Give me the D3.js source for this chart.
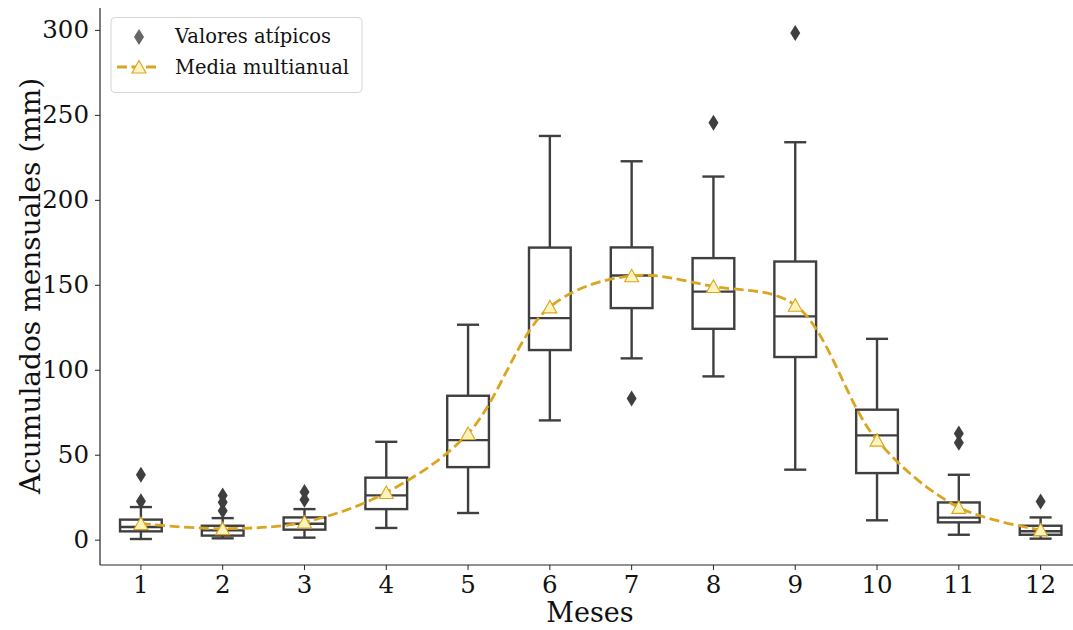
<!DOCTYPE html>
<html>
<head>
<meta charset="utf-8">
<script src="https://cdn.jsdelivr.net/npm/d3@7"></script>
<style>
  body { margin: 0; background: #fff; }
  svg { display: block; font-family: "DejaVu Serif", serif; }
</style>
</head>
<body>
<svg id="chart" width="1073" height="630"></svg>
<script>
// meses
var meses = [1, 2, 3, 4, 5, 6, 7, 8, 9, 10, 11, 12];
// cuartiles y bigotes por mes (mm)
var q1 = [4.9, 2.4, 5.9, 18.0, 42.7, 111.6, 136.3, 124.1, 107.5, 39.2, 10.2, 2.9];
var medianas = [7.5, 5.5, 9.4, 26.1, 58.6, 130.4, 155.5, 146.0, 131.4, 61.4, 13.0, 5.0];
var q3 = [11.8, 8.2, 13.1, 36.5, 84.7, 171.9, 172.0, 165.7, 163.7, 76.5, 21.9, 8.2];
var bigoteInf = [0.4, 0.8, 1.2, 6.9, 15.7, 70.2, 106.7, 96.1, 41.2, 11.4, 2.9, 0.6];
var bigoteSup = [19.2, 12.7, 18.0, 57.6, 126.5, 237.6, 222.7, 213.7, 233.9, 118.2, 38.2, 13.1];
var atipicos = [[22.6, 38.2], [17, 22, 26], [23.5, 28], [], [], [], [83.1], [245.3], [298.2], [], [57, 62.5], [22.5]];
var medias = [9.5, 6.5, 10.4, 27.8, 62.5, 137.0, 155.3, 149.0, 138.0, 58.6, 19.0, 5.8];
var yTicks = [0, 50, 100, 150, 200, 250, 300];

var svg = d3.select("#chart");
var gris = "#3f3f3f";
var oro = "#daa520";

var x = d3.scaleBand().domain(meses).range([100, 1081.5]).padding(0);
var y = d3.scaleLinear().domain([-14.9, 312.9]).range([565, 8]);
var cx = function(i) { return x(meses[i]) + x.bandwidth() / 2; };
var boxW = x.bandwidth() * 0.51;
var capW = x.bandwidth() * 0.27;

// ejes
var gy = svg.append("g").attr("transform", "translate(100,0)")
  .call(d3.axisLeft(y).tickValues(yTicks).tickSize(5).tickPadding(6));
var gx = svg.append("g").attr("transform", "translate(0,565)")
  .call(d3.axisBottom(x).tickSize(5).tickPadding(6));
[gx, gy].forEach(function(g) {
  g.select(".domain").attr("stroke", "#262626").attr("stroke-width", 1.2);
  g.selectAll(".tick line").attr("stroke", "#262626").attr("stroke-width", 1);
  g.selectAll(".tick text").attr("fill", "#111").style("font-family", "DejaVu Serif")
    .style("font-size", "24.5px");
});
gy.select(".domain").attr("d", "M0,8V565");
gx.select(".domain").attr("d", "M100,0H1073");

// cajas
var cajas = svg.append("g");
meses.forEach(function(m, i) {
  var c = cx(i);
  var g = cajas.append("g").attr("stroke", gris).attr("stroke-width", 2.4).attr("fill", "none");
  g.append("line").attr("x1", c).attr("x2", c).attr("y1", y(q3[i])).attr("y2", y(bigoteSup[i]));
  g.append("line").attr("x1", c).attr("x2", c).attr("y1", y(q1[i])).attr("y2", y(bigoteInf[i]));
  g.append("line").attr("x1", c - capW / 2).attr("x2", c + capW / 2).attr("y1", y(bigoteSup[i])).attr("y2", y(bigoteSup[i]));
  g.append("line").attr("x1", c - capW / 2).attr("x2", c + capW / 2).attr("y1", y(bigoteInf[i])).attr("y2", y(bigoteInf[i]));
  g.append("rect").attr("x", c - boxW / 2).attr("width", boxW)
    .attr("y", y(q3[i])).attr("height", y(q1[i]) - y(q3[i])).attr("fill", "#fff");
  g.append("line").attr("x1", c - boxW / 2).attr("x2", c + boxW / 2).attr("y1", y(medianas[i])).attr("y2", y(medianas[i]));
  atipicos[i].forEach(function(v) {
    cajas.append("path").attr("d", diamante(c, y(v))).attr("fill", gris);
  });
});

function diamante(px, py) {
  return "M" + px + "," + (py - 8) + "L" + (px + 5) + "," + py + "L" + px + "," + (py + 8) + "L" + (px - 5) + "," + py + "Z";
}
function triangulo(px, py) {
  return "M" + px + "," + (py - 6.5) + "L" + (px + 7) + "," + (py + 6) + "L" + (px - 7) + "," + (py + 6) + "Z";
}

// media multianual
var linea = d3.line().x(function(d, i) { return cx(i); }).y(function(d) { return y(d); })
  .curve(d3.curveCatmullRom.alpha(0.5));
svg.append("path").datum(medias).attr("d", linea).attr("fill", "none")
  .attr("stroke", oro).attr("stroke-width", 2.8).attr("stroke-dasharray", "10,4.5");
svg.append("g").selectAll("path").data(medias).join("path")
  .attr("d", function(d, i) { return triangulo(cx(i), y(d)); })
  .attr("fill", "#fdf4bd").attr("stroke", oro).attr("stroke-width", 1.1);

// títulos
svg.append("text").attr("x", 590).attr("y", 622).attr("text-anchor", "middle")
  .style("font-size", "27px").attr("fill", "#111").text("Meses");
svg.append("text").attr("transform", "translate(40,286) rotate(-90)").attr("text-anchor", "middle")
  .style("font-size", "28px").attr("fill", "#111").text("Acumulados mensuales (mm)");

// leyenda
var ley = svg.append("g");
ley.append("rect").attr("x", 111).attr("y", 17.5).attr("width", 251).attr("height", 75).attr("rx", 4)
  .attr("fill", "#fff").attr("fill-opacity", 0.8).attr("stroke", "#d6d6d6").attr("stroke-width", 1);
ley.append("path").attr("d", diamante(139, 37)).attr("fill", "#666");
ley.append("line").attr("x1", 117).attr("x2", 160).attr("y1", 67).attr("y2", 67)
  .attr("stroke", oro).attr("stroke-width", 2.8).attr("stroke-dasharray", "10,4.5");
ley.append("path").attr("d", triangulo(139, 67)).attr("fill", "#fdf4bd").attr("stroke", oro).attr("stroke-width", 1.1);
ley.append("text").attr("x", 175).attr("y", 43).style("font-size", "19.5px").attr("fill", "#111").text("Valores atípicos");
ley.append("text").attr("x", 175).attr("y", 74).style("font-size", "19.5px").attr("fill", "#111").text("Media multianual");
</script>
</body>
</html>
